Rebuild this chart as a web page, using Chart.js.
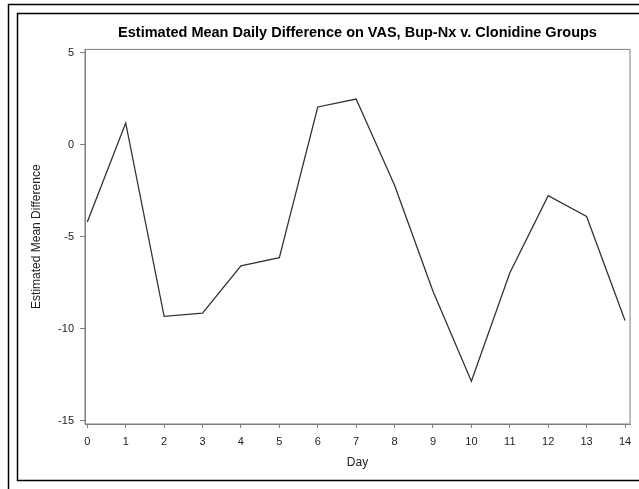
<!DOCTYPE html>
<html>
<head>
<meta charset="utf-8">
<script src="https://cdn.jsdelivr.net/npm/chart.js@4/dist/chart.umd.min.js"></script>
<style>
  html, body { margin: 0; padding: 0; background: #fff; }
  canvas { display: block; }
</style>
</head>
<body>
<canvas id="chart" width="639" height="489"></canvas>
<script>
// values
const days = [0, 1, 2, 3, 4, 5, 6, 7, 8, 9, 10, 11, 12, 13, 14];
const meanDiff = [-4.2, 1.18, -9.33, -9.15, -6.58, -6.14, 2.05, 2.48, -2.2, -7.97, -12.86, -6.97, -2.77, -3.9, -9.55];
const yTicks = [-15, -10, -5, 0, 5];
const xTicks = days;

const FONT = '"Liberation Sans", Arial, sans-serif';
const AXIS_GRAY = "#7f7f7f";

// the two page frames around the output and the box around the plot
const framePlugin = {
  id: "frames",
  beforeDraw(chart) {
    const ctx = chart.ctx;
    ctx.save();
    ctx.fillStyle = "#fff";
    ctx.fillRect(0, 0, chart.width, chart.height);
    ctx.strokeStyle = "#000";
    ctx.lineWidth = 1.5;
    ctx.beginPath();
    ctx.moveTo(8.5, chart.height + 5);
    ctx.lineTo(8.5, 4.5);
    ctx.lineTo(chart.width + 5, 4.5);
    ctx.moveTo(chart.width + 5, 480.5);
    ctx.lineTo(17.5, 480.5);
    ctx.lineTo(17.5, 13.5);
    ctx.lineTo(chart.width + 5, 13.5);
    ctx.stroke();
    ctx.restore();
  },
  afterDraw(chart) {
    const a = chart.chartArea;
    const ctx = chart.ctx;
    ctx.save();
    ctx.strokeStyle = AXIS_GRAY;
    ctx.lineWidth = 1;
    ctx.strokeRect(a.left, a.top, a.right - a.left, a.bottom - a.top);
    ctx.restore();
  }
};

const points = days.map((d, i) => ({ x: d, y: meanDiff[i] }));

new Chart(document.getElementById("chart"), {
  type: "line",
  data: {
    datasets: [{
      data: points,
      borderColor: "#333333",
      borderWidth: 1.3,
      pointRadius: 0,
      tension: 0,
      fill: false
    }]
  },
  options: {
    responsive: false,
    animation: false,
    devicePixelRatio: 1,
    layout: { padding: { left: 0, right: 9, top: 0, bottom: 0 } },
    plugins: {
      legend: { display: false },
      tooltip: { enabled: false },
      title: {
        display: true,
        text: "Estimated Mean Daily Difference on VAS, Bup-Nx v. Clonidine Groups",
        fullSize: false,
        color: "#000",
        font: { family: FONT, size: 14.5, weight: "bold" },
        padding: { top: 24, bottom: 8 }
      }
    },
    scales: {
      x: {
        type: "linear",
        min: -0.06,
        max: 14.13,
        afterBuildTicks: (scale) => { scale.ticks = xTicks.map(v => ({ value: v })); },
        afterFit: (scale) => { scale.height = 65; },
        grid: { drawOnChartArea: false, drawTicks: true, tickLength: 4, color: AXIS_GRAY },
        border: { display: true, color: AXIS_GRAY },
        ticks: { color: "#222", font: { family: FONT, size: 11 }, padding: 7, maxRotation: 0, autoSkip: false },
        title: {
          display: true,
          text: "Day",
          color: "#222",
          font: { family: FONT, size: 12 },
          padding: { top: 0, bottom: 19 }
        }
      },
      y: {
        min: -15.18,
        max: 5.18,
        afterBuildTicks: (scale) => { scale.ticks = yTicks.map(v => ({ value: v })); },
        afterFit: (scale) => { scale.width = 85; },
        grid: { drawOnChartArea: false, drawTicks: true, tickLength: 5, color: AXIS_GRAY },
        border: { display: true, color: AXIS_GRAY },
        ticks: { color: "#222", font: { family: FONT, size: 11 }, padding: 6 },
        title: {
          display: true,
          text: "Estimated Mean Difference",
          color: "#222",
          font: { family: FONT, size: 12 },
          padding: { top: 29, bottom: 0 }
        }
      }
    }
  },
  plugins: [framePlugin]
});
</script>
</body>
</html>
